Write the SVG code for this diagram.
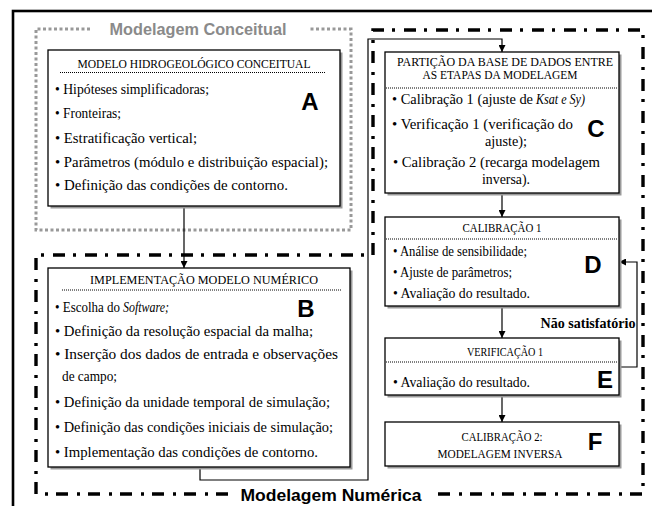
<svg xmlns="http://www.w3.org/2000/svg" width="652" height="506" viewBox="0 0 652 506">
<style>
.box{fill:#fff;stroke:#000;stroke-width:1.3}
.sh{fill:#9a9a9a}
.t{font-family:"Liberation Serif","Times New Roman",serif;font-size:14.5px;fill:#000}
.i{font-style:italic}
.h{font-family:"Liberation Serif","Times New Roman",serif;font-size:11.8px;fill:#000}
.lab{font-family:"Liberation Sans",Arial,sans-serif;font-size:24px;font-weight:bold;fill:#000;text-anchor:middle}
.sep{stroke:#000;stroke-width:1;stroke-dasharray:1,1}
.dd{fill:none;stroke:#000;stroke-width:3.4;stroke-dasharray:12,8,3,9}
.dot{fill:none;stroke:#999;stroke-width:3;stroke-dasharray:3,2.5}
.c{fill:none;stroke:#000;stroke-width:1.2}
</style>
<defs>
<marker id="ar" viewBox="0 0 10 10" refX="10" refY="5" markerWidth="7" markerHeight="7" markerUnits="userSpaceOnUse" orient="auto"><path d="M0,0 L10,5 L0,10 Z" fill="#000"/></marker>
</defs>
<rect width="652" height="506" fill="#fff"/>
<rect x="13" y="11" width="700" height="600" fill="none" stroke="#000" stroke-width="2.6"/>
<g id="frame-conceitual">
<path class="dot" d="M90,29 L36,29 L36,230 L351,230 L351,29 L308,29"/>
<text x="198" y="35" font-family="'Liberation Sans',Arial,sans-serif" font-size="16.5" font-weight="bold" fill="#8a8a8a" text-anchor="middle" textLength="177" lengthAdjust="spacingAndGlyphs">Modelagem Conceitual</text>
</g>
<g id="frame-numerica">
<path class="dd" d="M228,494 L36,494 L36,255 L373,255 L373,30 L643,30 L643,494 L432,494"/>
<text x="331" y="501" font-family="'Liberation Sans',Arial,sans-serif" font-size="16.5" font-weight="bold" fill="#000" text-anchor="middle" textLength="181" lengthAdjust="spacingAndGlyphs">Modelagem Numérica</text>
</g>
<g id="connectors">
<path class="c" d="M184,206 L184,268" marker-end="url(#ar)"/>
<path class="c" d="M200,467 L200,480 L368,480 L368,39 L502,39 L502,52" marker-end="url(#ar)"/>
<path class="c" d="M502,193 L502,217" marker-end="url(#ar)"/>
<path class="c" d="M502,306 L502,338" marker-end="url(#ar)"/>
<path class="c" d="M502,395 L502,422" marker-end="url(#ar)"/>
<path class="c" d="M619,367 L637,367 L637,262 L619,262" marker-end="url(#ar)"/>
<text x="588" y="328" font-family="'Liberation Serif','Times New Roman',serif" font-size="14.5" font-weight="bold" text-anchor="middle" textLength="95" lengthAdjust="spacingAndGlyphs">Não satisfatório</text>
</g>
<g id="A">
<rect class="sh" x="50.5" y="52.5" width="292" height="156"/>
<rect class="box" x="48" y="50" width="292" height="156"/>
<text class="h" x="194" y="68" text-anchor="middle" textLength="233" lengthAdjust="spacingAndGlyphs">MODELO HIDROGEOLÓGICO CONCEITUAL</text>
<line class="sep" x1="60" y1="72.5" x2="326" y2="72.5"/>
<text class="t" x="55" y="94" textLength="154" lengthAdjust="spacingAndGlyphs">• Hipóteses simplificadoras;</text>
<text class="t" x="55" y="118" textLength="66" lengthAdjust="spacingAndGlyphs">• Fronteiras;</text>
<text class="t" x="55" y="143" textLength="142" lengthAdjust="spacingAndGlyphs">• Estratificação vertical;</text>
<text class="t" x="55" y="167" textLength="273" lengthAdjust="spacingAndGlyphs">• Parâmetros (módulo e distribuição espacial);</text>
<text class="t" x="55" y="190" textLength="233" lengthAdjust="spacingAndGlyphs">• Definição das condições de contorno.</text>
<text class="lab" x="310" y="110">A</text>
</g>
<g id="B">
<rect class="sh" x="50.5" y="270.5" width="302" height="199"/>
<rect class="box" x="48" y="268" width="302" height="199"/>
<text class="h" x="204" y="284" text-anchor="middle" textLength="228" lengthAdjust="spacingAndGlyphs">IMPLEMENTAÇÃO MODELO NUMÉRICO</text>
<line class="sep" x1="62" y1="290" x2="341" y2="290"/>
<text class="t" x="55" y="312" textLength="65" lengthAdjust="spacingAndGlyphs">• Escolha do</text>
<text class="t i" x="123" y="312" textLength="46" lengthAdjust="spacingAndGlyphs">Software;</text>
<text class="t" x="55" y="336" textLength="258" lengthAdjust="spacingAndGlyphs">• Definição da resolução espacial da malha;</text>
<text class="t" x="55" y="359" textLength="283" lengthAdjust="spacingAndGlyphs">• Inserção dos dados de entrada e observações</text>
<text class="t" x="62" y="381" textLength="55" lengthAdjust="spacingAndGlyphs">de campo;</text>
<text class="t" x="55" y="407" textLength="275" lengthAdjust="spacingAndGlyphs">• Definição da unidade temporal de simulação;</text>
<text class="t" x="55" y="432" textLength="278" lengthAdjust="spacingAndGlyphs">• Definição das condições iniciais de simulação;</text>
<text class="t" x="55" y="457" textLength="263" lengthAdjust="spacingAndGlyphs">• Implementação das condições de contorno.</text>
<text class="lab" x="306" y="317">B</text>
</g>
<g id="C">
<rect class="sh" x="387.5" y="54.5" width="234" height="141"/>
<rect class="box" x="385" y="52" width="234" height="141"/>
<text class="h" x="505" y="66" text-anchor="middle" textLength="216" lengthAdjust="spacingAndGlyphs">PARTIÇÃO DA BASE DE DADOS ENTRE</text>
<text class="h" x="500" y="79" text-anchor="middle" textLength="155" lengthAdjust="spacingAndGlyphs">AS ETAPAS DA MODELAGEM</text>
<line class="sep" x1="386" y1="88" x2="618" y2="88"/>
<text class="t" x="392" y="104" textLength="141" lengthAdjust="spacingAndGlyphs">• Calibração 1 (ajuste de</text>
<text class="t i" x="536" y="104" textLength="49" lengthAdjust="spacingAndGlyphs">Ksat e Sy)</text>
<text class="t" x="392" y="129" textLength="181" lengthAdjust="spacingAndGlyphs">• Verificação 1 (verificação do</text>
<text class="t" x="485" y="146" textLength="42" lengthAdjust="spacingAndGlyphs">ajuste);</text>
<text class="t" x="393" y="167" textLength="207" lengthAdjust="spacingAndGlyphs">• Calibração 2 (recarga modelagem</text>
<text class="t" x="482" y="184" textLength="48" lengthAdjust="spacingAndGlyphs">inversa).</text>
<text class="lab" x="596" y="137">C</text>
</g>
<g id="D">
<rect class="sh" x="387.5" y="219.5" width="234" height="89"/>
<rect class="box" x="385" y="217" width="234" height="89"/>
<text class="h" x="502" y="232" text-anchor="middle" textLength="79" lengthAdjust="spacingAndGlyphs">CALIBRAÇÃO 1</text>
<line class="sep" x1="386" y1="239" x2="618" y2="239"/>
<text class="t" x="393" y="256" textLength="134" lengthAdjust="spacingAndGlyphs">• Análise de sensibilidade;</text>
<text class="t" x="393" y="277" textLength="119" lengthAdjust="spacingAndGlyphs">• Ajuste de parâmetros;</text>
<text class="t" x="393" y="298" textLength="137" lengthAdjust="spacingAndGlyphs">• Avaliação do resultado.</text>
<text class="lab" x="593" y="273">D</text>
</g>
<g id="E">
<rect class="sh" x="387.5" y="340.5" width="234" height="57"/>
<rect class="box" x="385" y="338" width="234" height="57"/>
<text class="h" x="505" y="356" text-anchor="middle" textLength="76" lengthAdjust="spacingAndGlyphs">VERIFICAÇÃO 1</text>
<line class="sep" x1="386" y1="362" x2="618" y2="362"/>
<text class="t" x="393" y="387" textLength="137" lengthAdjust="spacingAndGlyphs">• Avaliação do resultado.</text>
<text class="lab" x="605" y="388">E</text>
</g>
<g id="F">
<rect class="sh" x="387.5" y="424.5" width="234" height="44"/>
<rect class="box" x="385" y="422" width="234" height="44"/>
<text class="h" x="502" y="441" text-anchor="middle" textLength="81" lengthAdjust="spacingAndGlyphs">CALIBRAÇÃO 2:</text>
<text class="h" x="500" y="458" text-anchor="middle" textLength="125" lengthAdjust="spacingAndGlyphs">MODELAGEM INVERSA</text>
<text class="lab" x="595" y="450">F</text>
</g>
</svg>
